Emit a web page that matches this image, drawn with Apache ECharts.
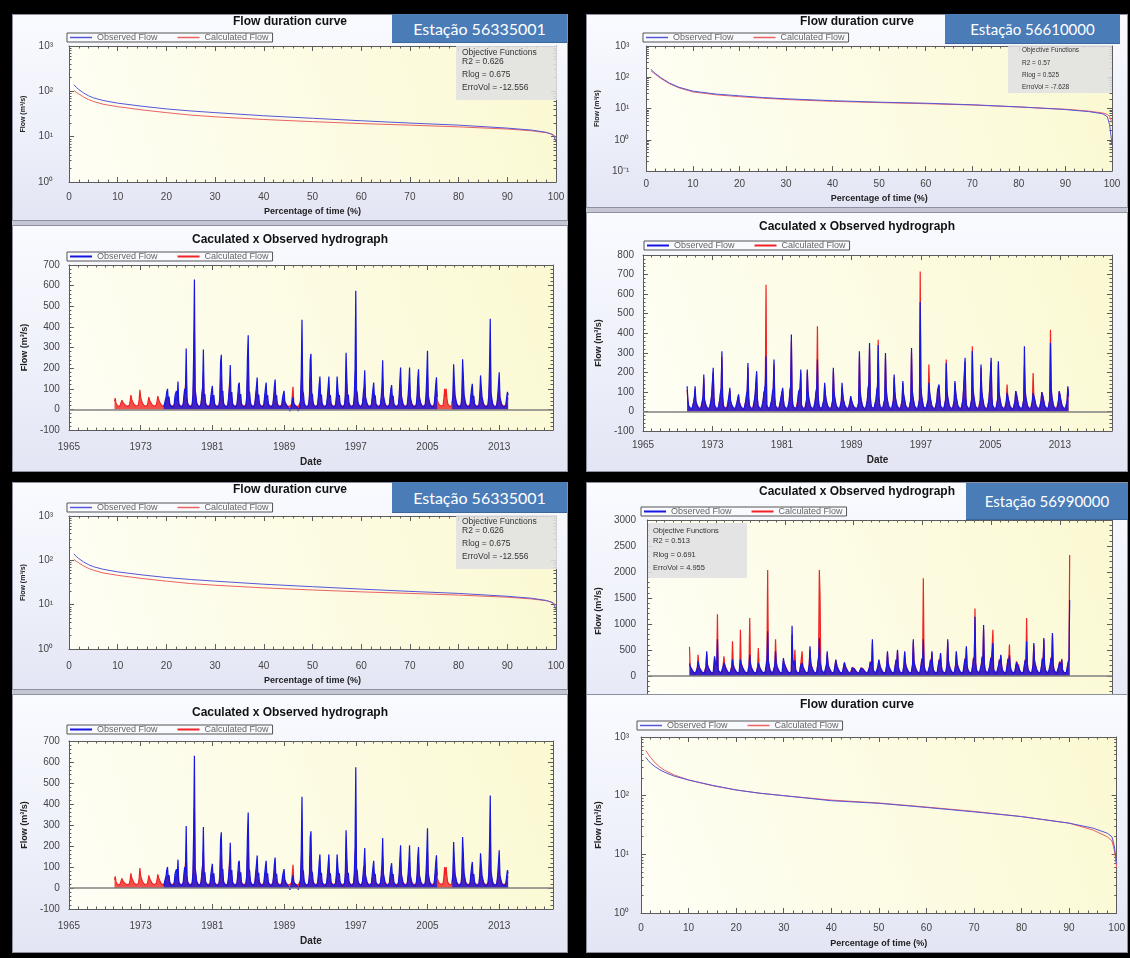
<!DOCTYPE html>
<html><head><meta charset="utf-8">
<script src="https://cdn.jsdelivr.net/npm/echarts@6.0.0/dist/echarts.min.js"></script>
<style>
html,body{margin:0;padding:0;}
body{width:1130px;height:958px;background:#000;position:relative;overflow:hidden;font-family:"Liberation Sans",Arial,sans-serif;}
.panel{position:absolute;background:#c4c6d4;}
.chart{position:absolute;background:linear-gradient(180deg,#fafbff 0%,#eef0fa 55%,#e3e5f4 100%);outline:1px solid #8e90a2;outline-offset:-1px;}
.station{position:absolute;background:#4a7cb8;color:#fff;font-family:Lato,"Open Sans",sans-serif;display:flex;align-items:center;justify-content:center;z-index:6;border-bottom:1px solid #3b679d;}
.obj{position:absolute;background:rgba(224,224,226,0.88);color:#333;z-index:6;font-family:"Liberation Sans",Arial,sans-serif;}
.obj span{position:absolute;white-space:nowrap;line-height:1;}
</style></head><body>
<script>
const n = null;
// ---------- Flow duration curves ----------
const pct = [1,1.5,2,3,4,5,7,10,15,20,25,30,40,50,60,70,80,90,95,98,99,99.5,100];
const fdcObs56335001  = [140,122,110,92,80,72,63,55,47,41,37,34,29,25.5,22.5,20,18,15.5,14,12.5,11.5,10.5,8];
const fdcCalc56335001 = [105,95,88,75,66,60,52,46,39,34,30,27.5,24,21.5,19.5,18,16.5,14.8,13.5,12.3,11.5,11,9.5];
const fdcObs56610000  = [180,150,130,100,80,65,48,36,29,25.5,22.5,20.5,17.8,16,14.8,13.2,11.3,9.3,8,6.8,5.5,3,0.7];
const fdcCalc56610000 = [160,140,122,95,76,62,46,34,27.5,24,21.5,19.5,17,15.5,14.3,13,11.2,9.5,8.3,7.2,6.5,5.5,3.5];
const fdcObs56990000  = [450,400,360,310,275,250,215,185,150,125,110,100,82,74,63,53,44,34,28,23,20,14,7];
const fdcCalc56990000 = [590,510,450,360,305,270,225,185,148,125,110,100,84,75,64,54,44,34,26,20,17,12,6];
const fdcDecades = [0.1,1,10,100,1000];
const fdcDecadeText = ['10⁻¹','10⁰','10¹','10²','10³'];

// ---------- Hydrographs (monthly values, one row per year, Jan..Dec) ----------
const hydroYears = [1965,1973,1981,1989,1997,2005,2013];

const h1ObsStart = 1975;
const h1Obs = [
[n,n,n,n,n,n,n,14,12,22,58,85],
[100,48,62,28,18,14,11,10,10,24,66,80],
[90,52,135,32,19,15,12,10,11,26,70,100],
[75,295,58,30,20,15,12,11,10,25,72,270],
[630,95,70,34,22,16,13,11,11,28,80,110],
[290,60,75,30,20,15,12,10,10,22,65,90],
[115,48,70,28,18,14,11,10,10,24,60,230],
[265,80,90,32,20,15,12,11,10,26,70,110],
[215,60,85,30,19,14,12,10,10,24,64,120],
[130,55,75,28,18,14,11,10,10,22,62,250],
[360,90,80,34,21,16,13,11,11,27,75,110],
[155,58,72,30,19,14,12,10,10,24,66,100],
[130,55,70,28,18,14,11,10,10,23,60,110],
[145,58,68,28,18,14,11,10,10,22,58,50],
[90,40,45,22,15,12,9,8,-8,-10,20,40],
[60,30,35,18,12,10,8,-8,-10,15,45,170],
[435,90,75,32,20,15,12,10,10,25,70,240],
[270,80,70,30,19,14,12,10,10,24,66,120],
[160,60,72,28,18,14,11,10,10,22,62,110],
[160,58,70,28,18,14,11,10,10,23,64,160],
[100,60,70,28,18,14,11,10,10,24,70,275],
[150,62,72,30,19,14,12,10,10,24,68,190],
[575,95,80,34,22,16,13,11,11,28,75,110],
[190,62,70,30,19,14,12,10,10,24,64,100],
[130,55,68,28,18,14,11,10,10,22,60,110],
[238,70,75,30,19,14,12,10,10,24,66,100],
[118,55,66,28,18,14,11,10,10,22,60,140],
[203,68,72,30,19,14,12,10,10,24,65,120],
[203,62,70,28,18,14,11,10,10,23,62,150],
[195,66,72,30,19,14,12,10,10,24,66,160],
[284,70,74,30,19,14,12,10,10,24,68,120],
[156,60,n,n,n,n,n,n,n,n,n,n],
[n,n,n,n,n,n,n,n,n,30,70,219],
[130,66,72,30,19,14,12,10,10,24,66,243],
[160,70,74,30,19,14,12,10,10,24,66,100],
[124,55,66,28,18,14,11,10,10,24,70,165],
[110,60,68,28,18,14,11,10,10,24,66,200],
[440,80,76,32,20,15,12,10,10,25,66,120],
[180,60,68,28,18,14,11,10,10,22,60,85],
[70]
];
const h1CalcStart = 1970;
const h1Calc = [
[n,40,55,30,22,18,16,15,15,20,35,45],
[35,30,28,22,18,16,15,14,14,20,40,70],
[50,40,45,25,19,17,15,14,14,22,45,95],
[60,45,50,26,19,17,15,14,14,20,38,60],
[45,38,40,24,18,16,15,14,14,22,40,65],
[50,40,42,24,18,16,15,14,14,20,38,50],
[60,40,45,25,19,17,15,14,14,22,45,55],
[55,40,80,26,19,17,15,14,14,22,48,65],
[60,170,45,26,19,17,15,14,14,22,50,150],
[380,65,50,28,20,18,16,15,15,24,55,70],
[170,45,50,26,19,17,15,14,14,22,48,60],
[70,40,48,25,19,17,15,14,14,22,45,140],
[160,55,60,27,20,17,15,14,14,22,50,130],
[130,45,55,26,19,17,15,14,14,22,48,80],
[80,42,50,25,19,17,15,14,14,22,46,150],
[220,60,55,28,20,18,16,15,15,24,52,70],
[95,42,50,25,19,17,15,14,14,22,48,65],
[80,40,48,25,19,17,15,14,14,22,45,70],
[90,42,46,25,19,17,15,14,14,22,44,35],
[55,30,32,22,18,16,15,14,14,18,25,30],
[110,25,28,20,17,16,15,14,14,20,35,100],
[260,60,52,27,20,17,15,14,14,22,50,150],
[160,55,50,26,19,17,15,14,14,22,48,75],
[100,45,50,25,19,17,15,14,14,22,46,70],
[100,42,48,25,19,17,15,14,14,22,46,100],
[65,42,48,25,19,17,15,14,14,22,50,170],
[95,44,50,26,19,17,15,14,14,22,48,120],
[220,60,55,28,20,18,16,15,15,24,52,70],
[115,44,48,25,19,17,15,14,14,22,46,65],
[80,40,46,25,19,17,15,14,14,22,44,70],
[145,48,50,26,19,17,15,14,14,22,48,65],
[75,40,46,25,19,17,15,14,14,22,44,90],
[125,46,50,26,19,17,15,14,14,22,46,75],
[125,44,48,25,19,17,15,14,14,22,46,95],
[120,46,50,26,19,17,15,14,14,22,48,100],
[170,48,50,26,19,17,15,14,14,22,48,75],
[95,45,48,26,20,18,16,15,15,22,55,100],
[60,100,55,28,20,18,16,15,15,24,50,130],
[80,46,50,26,19,17,15,14,14,22,48,150],
[100,48,50,26,19,17,15,14,14,22,46,65],
[80,40,46,25,19,17,15,14,14,22,48,100],
[70,42,48,25,19,17,15,14,14,22,46,120],
[260,55,52,27,20,17,15,14,14,22,46,75],
[110,42,46,25,19,17,15,14,14,22,44,55],
[50]
];

const h2Start = 1970;
const h2Obs = [
[n,129,60,30,22,18,16,15,15,22,50,75],
[129,55,65,30,21,18,16,15,15,24,55,80],
[189,60,70,32,22,18,16,15,15,25,58,90],
[100,223,75,32,22,18,16,15,15,24,60,95],
[120,308,80,34,23,19,17,15,15,26,62,85],
[121,55,60,30,21,18,16,15,15,22,50,70],
[87,50,55,28,20,17,15,14,14,22,55,85],
[110,248,75,32,22,18,16,15,15,24,60,90],
[100,206,70,30,21,18,16,15,15,24,58,95],
[110,140,282,34,22,18,16,15,15,25,62,100],
[120,265,75,32,22,18,16,15,15,24,58,80],
[90,121,60,30,21,18,16,15,15,22,55,110],
[130,393,80,34,23,19,17,15,15,26,64,100],
[110,120,214,32,22,18,16,15,15,24,60,214],
[110,70,75,32,22,18,16,15,15,24,58,100],
[120,265,80,34,22,18,16,15,15,25,62,146],
[90,60,65,30,21,18,16,15,15,22,58,223],
[100,70,70,30,21,18,16,15,15,24,56,146],
[90,60,62,30,21,18,16,15,15,22,50,78],
[60,45,50,26,20,17,15,14,14,20,50,308],
[110,70,72,32,22,18,16,15,15,24,60,120],
[140,350,80,34,22,18,16,15,15,25,62,110],
[130,340,78,34,22,18,16,15,15,25,64,299],
[120,75,75,32,22,18,16,15,15,24,60,189],
[100,65,68,30,21,18,16,15,15,24,58,155],
[90,70,70,30,21,18,16,15,15,24,62,325],
[110,75,72,32,22,18,16,15,15,25,64,560],
[130,80,76,34,22,18,16,15,15,25,60,146],
[100,70,70,30,21,18,16,15,15,24,58,110],
[100,138,72,30,21,18,16,15,15,24,60,248],
[110,75,72,32,22,18,16,15,15,24,58,155],
[100,70,70,30,21,18,16,15,15,24,60,120],
[110,274,78,32,22,18,16,15,15,25,62,308],
[120,80,76,32,22,18,16,15,15,24,60,240],
[110,75,72,32,22,18,16,15,15,24,62,120],
[130,274,78,32,22,18,16,15,15,25,64,257],
[100,70,70,30,21,18,16,15,15,22,52,95],
[80,60,62,28,20,17,15,14,14,22,55,104],
[90,70,68,30,21,18,16,15,15,24,60,333],
[110,72,72,32,22,18,16,15,15,24,55,95],
[85,65,66,30,21,18,16,15,15,22,56,99],
[90,70,68,30,21,18,16,15,15,24,62,350],
[120,75,74,32,22,18,16,15,15,22,55,104],
[90,65,66,30,21,18,16,15,15,24,58,129],
[80]
];
const h2Calc = [
[n,110,55,25,12,10,9,8,8,15,45,70],
[115,50,60,25,12,10,9,8,8,16,50,75],
[170,55,65,26,13,10,9,8,8,18,52,85],
[95,200,70,27,13,10,9,8,8,17,55,90],
[110,280,75,28,13,10,9,8,8,18,56,80],
[110,50,55,25,12,10,9,8,8,16,46,65],
[80,46,50,24,12,10,9,8,8,16,50,80],
[100,225,70,27,13,10,9,8,8,17,55,85],
[95,190,65,26,12,10,9,8,8,17,52,90],
[105,130,648,30,14,11,9,8,8,18,58,95],
[110,240,70,27,13,10,9,8,8,17,52,75],
[85,110,55,25,12,10,9,8,8,16,50,100],
[120,360,75,28,13,10,9,8,8,18,58,95],
[100,110,195,27,13,10,9,8,8,17,55,200],
[100,65,70,27,13,10,9,8,8,17,52,95],
[110,435,75,28,13,10,9,8,8,18,56,135],
[85,55,60,25,12,10,9,8,8,16,52,205],
[95,65,65,25,12,10,9,8,8,17,50,121],
[85,55,58,25,12,10,9,8,8,16,45,72],
[55,42,46,22,11,9,8,7,7,14,45,280],
[100,65,66,26,13,10,9,8,8,17,55,110],
[130,320,74,28,13,10,9,8,8,18,56,100],
[120,367,72,28,13,10,9,8,8,18,58,275],
[110,70,70,27,13,10,9,8,8,17,55,175],
[95,60,62,25,12,10,9,8,8,17,52,145],
[85,65,65,25,12,10,9,8,8,17,56,300],
[100,70,66,26,13,10,9,8,8,18,58,716],
[120,75,70,28,13,10,9,8,8,18,55,240],
[95,65,65,25,12,10,9,8,8,17,52,100],
[95,130,66,25,12,10,9,8,8,17,55,265],
[100,70,66,26,13,10,9,8,8,17,52,145],
[95,65,65,25,12,10,9,8,8,17,55,110],
[100,255,72,27,13,10,9,8,8,18,56,333],
[110,75,70,27,13,10,9,8,8,17,55,225],
[100,70,66,26,13,10,9,8,8,17,56,110],
[120,255,72,27,13,10,9,8,8,18,58,240],
[95,65,65,25,12,10,9,8,8,16,48,138],
[75,55,58,24,12,10,9,8,8,16,50,104],
[85,65,62,25,12,10,9,8,8,17,55,231],
[100,66,66,26,13,10,9,8,8,17,50,197],
[80,60,60,25,12,10,9,8,8,16,52,99],
[85,65,62,25,12,10,9,8,8,17,56,418],
[110,70,68,27,13,10,9,8,8,16,50,100],
[85,60,60,25,12,10,9,8,8,17,52,120],
[75]
];

const h3Start = 1969;
const h3Obs = [
[n,n,n,n,n,n,n,n,n,n,n,244],
[180,150,160,110,80,70,60,55,55,80,160,282],
[200,160,170,110,80,70,60,55,55,85,180,474],
[220,170,180,115,85,70,62,56,56,90,378,250],
[260,200,705,130,90,75,65,58,58,90,190,250],
[220,170,180,115,85,70,62,56,56,85,180,314],
[210,160,170,110,80,70,60,55,55,85,314,230],
[200,160,170,110,80,70,60,55,55,90,200,410],
[230,170,180,115,85,70,62,56,56,85,170,250],
[200,160,170,110,80,70,60,55,55,90,200,300],
[859,250,200,130,90,75,65,58,58,90,210,474],
[250,180,190,120,85,72,62,56,56,88,346,240],
[230,170,180,115,85,70,62,56,56,95,968,300],
[260,200,300,120,85,72,62,56,56,88,200,230],
[250,180,190,120,85,72,62,56,56,90,220,570],
[260,190,200,120,85,72,62,56,56,92,240,350],
[730,260,230,130,90,75,65,58,58,90,220,474],
[250,180,190,120,85,72,62,56,56,88,200,314],
[220,170,180,115,85,70,62,56,56,85,190,263],
[200,160,170,110,80,68,60,55,55,80,160,150],
[150,130,140,100,75,65,58,52,52,75,150,140],
[150,130,140,100,75,65,58,52,52,80,170,260],
[240,200,705,130,90,75,65,58,58,88,200,314],
[230,170,180,115,85,70,62,56,56,88,210,474],
[250,180,190,120,85,72,62,56,56,88,210,300],
[260,506,200,120,85,72,62,56,56,88,210,474],
[250,180,190,120,85,72,62,56,56,90,220,705],
[280,200,210,125,88,74,64,57,57,90,220,320],
[260,705,220,130,90,75,65,58,58,90,210,300],
[250,474,200,120,85,72,62,56,56,88,210,300],
[250,442,200,120,85,72,62,56,56,90,220,705],
[280,200,210,125,88,74,64,57,57,88,210,474],
[250,190,200,120,85,72,62,56,56,88,210,320],
[260,570,210,125,88,74,64,57,57,90,220,340],
[300,1140,240,130,90,75,65,58,58,92,230,360],
[300,981,240,130,90,75,65,58,58,90,220,340],
[280,260,635,130,90,75,65,58,58,88,210,300],
[260,410,210,125,88,74,64,57,57,88,210,320],
[270,400,220,125,88,74,64,57,57,85,190,260],
[220,250,190,120,85,72,62,56,56,88,210,300],
[260,667,220,125,88,74,64,57,57,90,220,635],
[280,220,210,125,88,74,64,57,57,88,210,330],
[270,730,220,130,90,75,65,58,58,90,220,340],
[280,827,230,130,90,75,65,58,58,88,200,260],
[230,200,314,120,85,72,62,56,56,85,190,260],
[300,1459]
];
const h3Calc = [
[n,n,n,n,n,n,n,n,n,n,n,564],
[200,150,170,100,60,50,45,40,40,70,170,410],
[220,160,170,100,60,50,45,40,40,75,180,430],
[230,170,180,105,62,50,45,40,40,80,340,260],
[300,230,1186,120,65,52,46,41,41,80,200,378],
[240,180,190,105,62,50,45,40,40,78,190,667],
[240,170,180,100,60,50,45,40,40,80,891,250],
[220,170,180,100,60,50,45,40,40,85,220,1115],
[260,180,190,105,62,50,45,40,40,80,190,538],
[230,170,180,100,60,50,45,40,40,85,220,400],
[2038,300,230,120,65,52,46,41,41,85,230,705],
[280,190,200,110,62,50,45,40,40,82,300,250],
[240,180,190,105,62,50,45,40,40,90,795,320],
[270,220,506,110,62,50,45,40,40,82,220,250],
[474,200,200,110,62,50,45,40,40,85,240,500],
[280,200,210,110,62,50,45,40,40,88,260,380],
[2038,1558,260,120,65,52,46,41,41,85,240,430],
[270,190,200,110,62,50,45,40,40,82,220,300],
[240,180,190,105,62,50,45,40,40,80,200,250],
[210,170,180,100,60,50,45,40,40,75,170,186],
[170,140,150,95,58,48,43,38,38,70,160,173],
[160,140,150,95,58,48,43,38,38,75,180,280],
[260,220,640,120,65,52,46,41,41,82,220,300],
[240,180,190,105,62,50,45,40,40,82,220,440],
[260,190,200,110,62,50,45,40,40,82,230,320],
[280,480,210,110,62,50,45,40,40,82,230,450],
[270,190,200,110,62,50,45,40,40,85,240,650],
[300,220,220,115,64,52,46,41,41,85,240,340],
[280,1878,240,120,65,52,46,41,41,85,230,320],
[270,450,210,110,62,50,45,40,40,82,230,320],
[270,420,210,110,62,50,45,40,40,85,240,660],
[300,220,220,115,64,52,46,41,41,82,230,450],
[270,200,210,110,62,50,45,40,40,82,230,340],
[280,540,220,115,64,52,46,41,41,85,240,360],
[320,1300,260,120,65,52,46,41,41,88,250,380],
[320,900,260,120,65,52,46,41,41,85,240,360],
[300,280,891,120,65,52,46,41,41,82,230,320],
[280,390,220,115,64,52,46,41,41,82,230,340],
[290,603,240,115,64,52,46,41,41,80,210,280],
[240,270,200,110,62,50,45,40,40,82,230,320],
[280,1115,240,115,64,52,46,41,41,85,240,600],
[300,240,220,115,64,52,46,41,41,82,230,350],
[290,700,240,120,65,52,46,41,41,85,240,360],
[300,780,250,120,65,52,46,41,41,82,220,280],
[250,220,330,110,62,50,45,40,40,80,210,280],
[320,2327]
];

// ---------- Objective functions & station labels ----------
const stats56335001 = ['0.626','0.675','-12.556'];
const stats56610000 = ['0.57','0.525','-7.628'];
const stats56990000 = ['0.513','0.691','4.955'];
const statNames = ['R2','Rlog','ErroVol'];

// ================= drawing =================
const FONT = '"Liberation Sans", Arial, Helvetica, sans-serif';
const AX = '#5c5c5c';
const OBS_C = '#1616e0', CALC_C = '#f02424';
const OBS_F = '#5656d8', CALC_F = '#ea6262';

function monthly(start, rows){
  const out = [];
  rows.forEach((r,i)=>r.forEach((v,m)=>out.push([start+i+m/12, v===null?'-':v])));
  return out;
}
function logMinor(min){const o=[];for(let d=min;d<1000;d*=10){for(let k=2;k<10;k++)o.push(+(d*k).toPrecision(3));}return o;}
const yearTicks=[];for(let y=1965;y<=2019;y++)yearTicks.push(y);
function decadeLabel(v){const e=Math.round(Math.log10(v));const i=fdcDecades.findIndex(d=>Math.round(Math.log10(d))===e);return fdcDecadeText[i];}

function plotBg(){return new echarts.graphic.LinearGradient(0,1,1,0,[{offset:0,color:'#fefef5'},{offset:1,color:'#fbf9d2'}]);}
function lineOn(){return {show:true,onZero:false,lineStyle:{color:AX,width:1}};}
function lineOff(){return {show:false,onZero:false};}
function tickStyle(len){return {show:true,inside:true,length:len,lineStyle:{color:AX,width:1}};}
function minorStyle(sp){return {show:true,splitNumber:sp,length:2.5,lineStyle:{color:AX,width:1}};}
function axisName(size){return {fontSize:size,fontWeight:'bold',color:'#222',fontFamily:FONT};}
function titleOpt(text,top){return {text,left:'center',top,padding:0,textStyle:{fontSize:12,fontWeight:'bold',color:'#111',fontFamily:FONT}};}
function legendOpt(l,t,h){return {data:['Observed Flow','Calculated Flow'],icon:'rect',left:l,top:t,orient:'horizontal',itemWidth:22,itemHeight:h,itemGap:20,padding:[0,4,0,3],borderColor:'#555',borderWidth:1,backgroundColor:'rgba(255,255,255,0.25)',textStyle:{fontSize:9,lineHeight:9,color:'#666',fontFamily:FONT},selectedMode:false};}

function fdcOption(c){
  const dec = fdcDecades.filter(d=>d>=c.yMin);
  const minor = logMinor(c.yMin);
  const yB = {type:'log',logBase:10,min:c.yMin,max:1000,splitLine:{show:false}};
  const xB = {type:'value',min:0,max:100,interval:10,splitLine:{show:false}};
  return {
    animation:false, textStyle:{fontFamily:FONT},
    title:titleOpt('Flow duration curve',c.titleTop),
    legend:legendOpt(c.legL,c.legT,1.5),
    grid:{left:c.g[0],right:c.g[1],top:c.g[2],bottom:c.g[3],show:true,backgroundColor:plotBg(),borderWidth:0},
    xAxis:[
      Object.assign({},xB,{position:'bottom',axisLine:lineOn(),axisTick:tickStyle(5),minorTick:minorStyle(5),
        axisLabel:{fontSize:10,color:'#444',margin:c.xLabM,fontFamily:FONT},
        name:'Percentage of time (%)',nameLocation:'middle',nameGap:c.xNameGap,nameTextStyle:axisName(9)}),
      Object.assign({},xB,{position:'top',axisLine:lineOn(),axisTick:tickStyle(5),minorTick:minorStyle(5),axisLabel:{show:false}})
    ],
    yAxis:[
      Object.assign({},yB,{position:'left',axisLine:lineOn(),axisTick:Object.assign(tickStyle(5),{customValues:dec}),
        axisLabel:{customValues:dec,formatter:decadeLabel,fontSize:10,color:'#444',margin:c.yLabM,fontFamily:FONT},
        name:'Flow (m³/s)',nameLocation:'middle',nameGap:c.yNameGap,nameTextStyle:axisName(c.yNameSize)}),
      Object.assign({},yB,{position:'right',axisLine:lineOn(),axisTick:Object.assign(tickStyle(5),{customValues:dec}),axisLabel:{show:false}}),
      Object.assign({},yB,{position:'left',axisLine:lineOff(),axisTick:Object.assign(tickStyle(2.5),{customValues:minor}),axisLabel:{show:false}}),
      Object.assign({},yB,{position:'right',axisLine:lineOff(),axisTick:Object.assign(tickStyle(2.5),{customValues:minor}),axisLabel:{show:false}})
    ],
    series:[
      {name:'Calculated Flow',type:'line',symbol:'none',showSymbol:false,z:2,lineStyle:{width:1,color:CALC_F},itemStyle:{color:CALC_F},data:pct.map((p,i)=>[p,c.calc[i]])},
      {name:'Observed Flow',type:'line',symbol:'none',showSymbol:false,z:3,lineStyle:{width:1,color:OBS_F},itemStyle:{color:OBS_F},data:pct.map((p,i)=>[p,c.obs[i]])}
    ]
  };
}

function hydroOption(c){
  const xB = {type:'value',min:1965,max:2019,splitLine:{show:false}};
  const yB = {type:'value',min:c.yMin,max:c.yMax,interval:c.yInt,splitLine:{show:false}};
  return {
    animation:false, textStyle:{fontFamily:FONT},
    title:titleOpt('Caculated x Observed hydrograph',c.titleTop),
    legend:legendOpt(c.legL,c.legT,2),
    grid:{left:c.g[0],right:c.g[1],top:c.g[2],bottom:c.g[3],show:true,backgroundColor:plotBg(),borderWidth:0},
    xAxis:[
      Object.assign({},xB,{position:'bottom',axisLine:lineOn(),axisTick:Object.assign(tickStyle(5),{customValues:hydroYears}),
        axisLabel:{customValues:hydroYears,formatter:v=>String(v),fontSize:10,color:'#444',margin:c.xLabM,fontFamily:FONT},
        name:'Date',nameLocation:'middle',nameGap:c.xNameGap,nameTextStyle:axisName(10)}),
      Object.assign({},xB,{position:'top',axisLine:lineOn(),axisTick:Object.assign(tickStyle(5),{customValues:hydroYears}),axisLabel:{show:false}}),
      Object.assign({},xB,{position:'bottom',axisLine:lineOff(),axisTick:Object.assign(tickStyle(2.5),{customValues:yearTicks}),axisLabel:{show:false}}),
      Object.assign({},xB,{position:'top',axisLine:lineOff(),axisTick:Object.assign(tickStyle(2.5),{customValues:yearTicks}),axisLabel:{show:false}})
    ],
    yAxis:[
      Object.assign({},yB,{position:'left',axisLine:lineOn(),axisTick:tickStyle(5),minorTick:minorStyle(5),
        axisLabel:{formatter:v=>String(v),fontSize:10,color:'#444',margin:c.yLabM,fontFamily:FONT},
        name:'Flow (m³/s)',nameLocation:'middle',nameGap:c.yNameGap,nameTextStyle:axisName(c.yNameSize)}),
      Object.assign({},yB,{position:'right',axisLine:lineOn(),axisTick:tickStyle(5),minorTick:minorStyle(5),axisLabel:{show:false}})
    ],
    series:[
      {name:'Calculated Flow',type:'line',symbol:'none',showSymbol:false,z:2,connectNulls:false,lineStyle:{width:1.2,color:CALC_C},itemStyle:{color:CALC_C},areaStyle:{color:CALC_C,opacity:0.8},data:monthly(c.calcStart,c.calc)},
      {name:'Observed Flow',type:'line',symbol:'none',showSymbol:false,z:3,connectNulls:false,lineStyle:{width:1.2,color:OBS_C},itemStyle:{color:OBS_C},areaStyle:{color:OBS_C,opacity:0.8},data:monthly(c.obsStart,c.obs),
        markLine:{silent:true,symbol:'none',label:{show:false},animation:false,lineStyle:{color:'#808080',width:1.5,type:'solid'},data:[{yAxis:0}]}}
    ]
  };
}

function addDiv(cls,l,t,w,h,z){const d=document.createElement('div');d.className=cls;d.style.cssText='left:'+l+'px;top:'+t+'px;width:'+w+'px;height:'+h+'px;z-index:'+(z||1);document.body.appendChild(d);return d;}
function chart(l,t,w,h,z,opt){const d=addDiv('chart',l,t,w,h,z);const c=echarts.init(d,null,{renderer:'canvas',width:w,height:h});c.setOption(opt);return c;}
function station(text,l,t,w,h,fs){const d=addDiv('station',l,t,w,h,6);d.style.fontSize=fs+'px';d.textContent=text;}
function objBox(stats,l,t,w,h,fs,tx,lines){
  const d=addDiv('obj',l,t,w,h,6);d.style.fontSize=fs+'px';
  const texts=['Objective Functions'].concat(statNames.map((s,i)=>s+' = '+stats[i]));
  texts.forEach((s,i)=>{const sp=document.createElement('span');sp.style.left=tx+'px';sp.style.top=lines[i]+'px';sp.textContent=s;d.appendChild(sp);});
}

// panels
addDiv('panel',12,14,556,458,0);
addDiv('panel',586,14,542,458,0);
addDiv('panel',12,482,556,471,0);
addDiv('panel',586,482,542,471,0);

// top-left: 56335001
const fdcA = {obs:fdcObs56335001,calc:fdcCalc56335001,yMin:1};
const hydA = {obs:h1Obs,calc:h1Calc,obsStart:h1ObsStart,calcStart:h1CalcStart,yMin:-100,yMax:700,yInt:100};
chart(12,14,556,207,1,fdcOption(Object.assign({},fdcA,{g:[55,12,32,32],titleTop:2,legL:55,legT:19,xLabM:10,xNameGap:18,yLabM:16,yNameGap:33,yNameSize:7})));
chart(12,225,556,247,1,hydroOption(Object.assign({},hydA,{g:[55,15,40,39],titleTop:9,legL:55,legT:27,yLabM:9,yNameGap:37,yNameSize:9,xLabM:12,xNameGap:23})));
station('Estação 56335001',392,14,175,28,16);
objBox(stats56335001,456,46,101,54,8.5,6,[2,11,24,37]);

// top-right: 56610000
chart(586,14,542,194,1,fdcOption({obs:fdcObs56610000,calc:fdcCalc56610000,yMin:0.1,g:[56,16,32,29],titleTop:2,legL:57,legT:19,xLabM:8,xNameGap:17,yLabM:17,yNameGap:35,yNameSize:7}));
chart(586,212,542,260,1,hydroOption({obs:h2Obs,calc:h2Calc,obsStart:h2Start,calcStart:h2Start,yMin:-100,yMax:800,yInt:100,g:[57,16,43,41],titleTop:9,legL:58,legT:29,yLabM:9,yNameGap:35,yNameSize:9,xLabM:9,xNameGap:24}));
station('Estação 56610000',945,14,175,29,15);
objBox(stats56610000,1008,45,104,48,6.5,14,[2,15,27,39]);

// bottom-left: 56335001 (repeat)
chart(12,482,556,208,1,fdcOption(Object.assign({},fdcA,{g:[55,12,34,31],titleTop:2,legL:55,legT:21,xLabM:12,xNameGap:19,yLabM:16,yNameGap:33,yNameSize:7})));
chart(12,694,556,259,1,hydroOption(Object.assign({},hydA,{g:[55,15,47,44],titleTop:13,legL:55,legT:31,yLabM:9,yNameGap:37,yNameSize:9,xLabM:12,xNameGap:25})));
station('Estação 56335001',392,482,175,30,16);
objBox(stats56335001,456,515,101,54,8.5,6,[2,11,24,37]);

// bottom-right: 56990000
chart(586,482,542,258,1,hydroOption({obs:h3Obs,calc:h3Calc,obsStart:h3Start,calcStart:h3Start,yMin:-500,yMax:3000,yInt:500,g:[55,16,38,38],titleTop:4,legL:55,legT:25,yLabM:11,yNameGap:40,yNameSize:9,xLabM:8,xNameGap:23}));
chart(586,694,542,259,3,fdcOption({obs:fdcObs56990000,calc:fdcCalc56990000,yMin:1,g:[51,11,43,35],titleTop:5,legL:51,legT:27,xLabM:10,xNameGap:26,yLabM:12,yNameGap:36,yNameSize:9}));
station('Estação 56990000',966,483,162,36,15);
objBox(stats56990000,648,523,99,55,7.5,5,[4,14,28,41]);
</script>
</body></html>
